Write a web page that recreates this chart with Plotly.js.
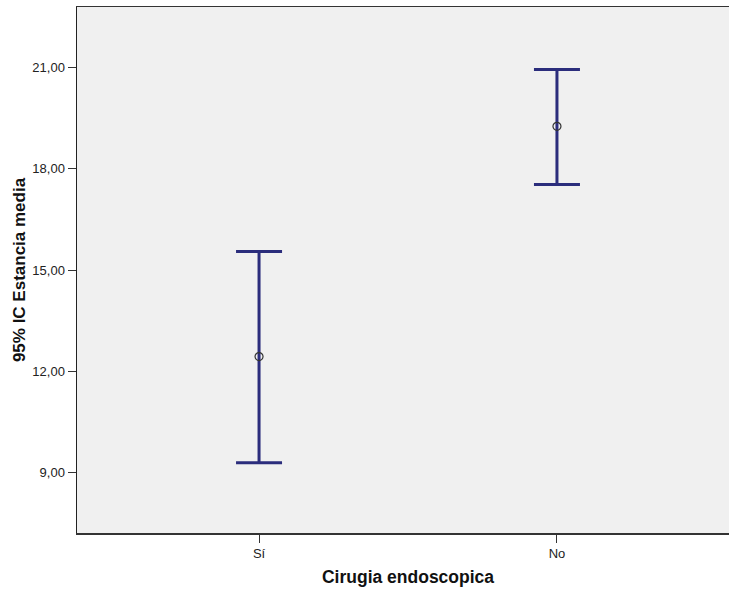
<!DOCTYPE html>
<html><head><meta charset="utf-8">
<script src="https://cdn.plot.ly/plotly-3.0.1.min.js"></script>
<style>html,body{margin:0;background:#fff;overflow:hidden}#c{width:739px;height:589px}</style>
</head><body><div id="c"></div>
<script>
const categories = ['Sí', 'No'];
const means = [12.44, 19.25];
const upper = [15.55, 20.93];
const lower = [9.30, 17.53];
const yTicks = [9, 12, 15, 18, 21];

const trace = {
  type: 'scatter', mode: 'markers',
  x: categories, y: means,
  marker: {symbol: 'circle-open', size: 8, color: '#333333', line: {width: 1.2, color: '#333333'}},
  error_y: {type: 'data', symmetric: false,
    array: upper.map((u, i) => u - means[i]),
    arrayminus: means.map((m, i) => m - lower[i]),
    color: '#2b2d7c', thickness: 3, width: 23},
  hoverinfo: 'none', showlegend: false
};

Plotly.newPlot('c', [trace], {
  width: 739, height: 589,
  margin: {l: 77, r: 0, t: 7, b: 56},
  paper_bgcolor: '#ffffff', plot_bgcolor: '#f0f0f0',
  separators: ',.',
  font: {family: 'Liberation Sans, Arial, sans-serif', size: 12, color: '#222'},
  xaxis: {type: 'category', range: [-0.611, 1.611], showgrid: false, zeroline: false,
    showline: true, linecolor: '#333', linewidth: 1.5, mirror: true,
    ticks: 'outside', ticklen: 8, tickcolor: '#333', tickwidth: 1,
    tickfont: {size: 13, color: '#222'},
    title: {text: 'Cirugia endoscopica', font: {size: 17.5, color: '#111', weight: 'bold'}, standoff: 10}},
  yaxis: {range: [7.22, 22.78], tickvals: yTicks, tickformat: '.2f', showgrid: false, zeroline: false,
    showline: true, linecolor: '#222', linewidth: 1.5,
    ticks: 'outside', ticklen: 8, tickcolor: '#333', tickwidth: 1,
    tickfont: {size: 13, color: '#222'},
    title: {text: '95% IC Estancia media', font: {size: 17, color: '#111', weight: 'bold'}, standoff: 2}}
}, {staticPlot: true});
</script></body></html>
